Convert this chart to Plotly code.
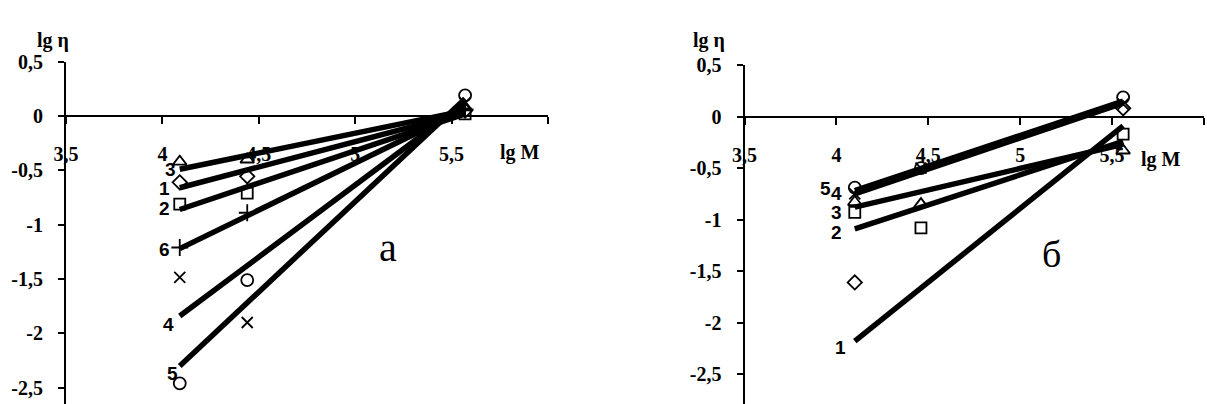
import plotly.graph_objects as go

W, H = 1207, 404

# ---------------- Panel "а" data ----------------
a_lgM = [4.09, 4.44, 5.57]
a_s1 = [-0.61, -0.555, 0.05]    # diamonds
a_s2 = [-0.81, -0.71, 0.02]     # squares
a_s3 = [-0.42, -0.40, 0.08]     # triangles
a_s4 = [-1.485, -1.90, 0.12]    # crosses (x)
a_s5 = [-2.46, -1.51, 0.19]     # circles
a_s6 = [-1.21, -0.89, 0.06]     # plus
a_fit_x = [4.09, 5.57]
a_fit1 = [-0.66, 0.03]
a_fit2 = [-0.86, 0.02]
a_fit3 = [-0.49, 0.05]
a_fit4 = [-1.84, 0.12]
a_fit5 = [-2.30, 0.16]
a_fit6 = [-1.22, 0.06]
a_lbl_text = ["3", "1", "2", "6", "4", "5"]
a_lbl_x = [4.04, 4.01, 4.01, 4.01, 4.03, 4.05]
a_lbl_y = [-0.49, -0.67, -0.85, -1.23, -1.92, -2.37]

# ---------------- Panel "б" data ----------------
b_lgM = [4.10, 4.46, 5.56]
b_s1 = [-1.61, None, 0.08]      # diamonds
b_s2 = [-0.93, -1.08, -0.17]    # squares
b_s3 = [-0.83, -0.85, -0.33]    # triangles
b_s4 = [-0.75, -0.50, 0.12]     # crosses (x)
b_s5 = [-0.69, -0.50, 0.185]    # circles
b_fit_x = [4.10, 5.56]
b_fit1 = [-2.18, -0.09]
b_fit2 = [-1.09, -0.24]
b_fit3 = [-0.88, -0.27]
b_fit4 = [-0.75, 0.13]
b_fit5 = [-0.72, 0.15]
b_lbl_text = ["5", "4", "3", "2", "1"]
b_lbl_x = [3.94, 4.00, 4.00, 4.00, 4.02]
b_lbl_y = [-0.70, -0.75, -0.93, -1.13, -2.24]

x_ticks = [3.5, 4, 4.5, 5, 5.5, 6]
x_ticktext = ["3,5", "4", "4,5", "5", "5,5", ""]
y_ticks = [0.5, 0, -0.5, -1, -1.5, -2, -2.5]
y_ticktext = ["0,5", "0", "-0,5", "-1", "-1,5", "-2", "-2,5"]

a_yrange = [-2.65, 0.5]
b_yrange = [-2.79, 0.5]

fig = go.Figure()

def add_marks(xs, ys, symbol, xa, ya, size=11):
    fig.add_trace(go.Scatter(
        x=xs, y=ys, mode="markers", xaxis=xa, yaxis=ya, showlegend=False,
        marker=dict(symbol=symbol, size=size, color="black",
                    line=dict(color="black", width=1.8)),
        cliponaxis=False))

def add_fit(xs, ys, xa, ya):
    fig.add_trace(go.Scatter(
        x=xs, y=ys, mode="lines", xaxis=xa, yaxis=ya, showlegend=False,
        line=dict(color="black", width=5.5)))

# panel а
add_marks(a_lgM, a_s1, "diamond-open", "x", "y")
add_marks(a_lgM, a_s2, "square-open", "x", "y")
add_marks(a_lgM, a_s3, "triangle-up-open", "x", "y", 12)
add_marks(a_lgM, a_s4, "x-thin-open", "x", "y")
add_marks(a_lgM, a_s5, "circle-open", "x", "y", 12)
add_marks(a_lgM, a_s6, "cross-thin-open", "x", "y", 12)
for f in [a_fit1, a_fit2, a_fit3, a_fit4, a_fit5, a_fit6]:
    add_fit(a_fit_x, f, "x", "y")

# panel б
add_marks(b_lgM, b_s1, "diamond-open", "x2", "y2")
add_marks(b_lgM, b_s2, "square-open", "x2", "y2")
add_marks(b_lgM, b_s3, "triangle-up-open", "x2", "y2", 12)
add_marks(b_lgM, b_s4, "x-thin-open", "x2", "y2")
add_marks(b_lgM, b_s5, "circle-open", "x2", "y2", 12)
for f in [b_fit1, b_fit2, b_fit3, b_fit4, b_fit5]:
    add_fit(b_fit_x, f, "x2", "y2")

tickfont = dict(family="Liberation Serif", size=20, color="black")

a_ydom = [0, 1 - 61.7 / H]
b_ydom = [0, 1 - 65.0 / H]

def zero_pos(dom, rng):
    return dom[0] + (dom[1] - dom[0]) * (0 - rng[0]) / (rng[1] - rng[0])

def bold(labels):
    return ["<b>%s</b>" % t if t else "" for t in labels]

def xaxis_cfg(dom, ypos):
    return dict(domain=dom, range=[3.5, 6], anchor="free", position=ypos,
                tickmode="array", tickvals=x_ticks, ticktext=bold(x_ticktext),
                showline=True, linecolor="black", linewidth=2,
                ticks="outside", ticklen=7, tickwidth=1.5, tickcolor="black",
                showgrid=False, zeroline=False, tickfont=tickfont,
                ticklabelstandoff=13, layer="below traces", automargin=False)

def yaxis_cfg(dom, rng, xa):
    return dict(domain=dom, range=rng, anchor=xa,
                tickmode="array", tickvals=y_ticks, ticktext=bold(y_ticktext),
                showline=True, linecolor="black", linewidth=2,
                ticks="outside", ticklen=6, tickwidth=1.5, tickcolor="black",
                showgrid=False, zeroline=False, tickfont=tickfont,
                ticklabelstandoff=11, layer="below traces", automargin=False)

fig.update_layout(
    width=W, height=H, margin=dict(l=0, r=0, t=0, b=0),
    paper_bgcolor="white", plot_bgcolor="rgba(0,0,0,0)",
    xaxis=xaxis_cfg([66 / W, 548 / W], zero_pos(a_ydom, a_yrange)),
    yaxis=yaxis_cfg(a_ydom, a_yrange, "x"),
    xaxis2=xaxis_cfg([744.5 / W, 1204 / W], zero_pos(b_ydom, b_yrange)),
    yaxis2=yaxis_cfg(b_ydom, b_yrange, "x2"),
)

ann = []
lblfont = dict(family="Liberation Sans", size=19, color="black")
for t, x, y in zip(a_lbl_text, a_lbl_x, a_lbl_y):
    ann.append(dict(text="<b>%s</b>" % t, x=x, y=y, xref="x", yref="y",
                    showarrow=False, font=lblfont))
for t, x, y in zip(b_lbl_text, b_lbl_x, b_lbl_y):
    ann.append(dict(text="<b>%s</b>" % t, x=x, y=y, xref="x2", yref="y2",
                    showarrow=False, font=lblfont))

titlefont = dict(family="Liberation Serif", size=20, color="black")
ann += [
    dict(text="<b>lg η</b>", x=35 / W, y=1 - 26.7 / H, xref="paper", yref="paper",
         showarrow=False, font=titlefont),
    dict(text="<b>lg η</b>", x=708.5 / W, y=1 - 26.7 / H, xref="paper", yref="paper",
         showarrow=False, font=titlefont),
    dict(text="<b>lg M</b>", x=520 / W, y=1 - 152 / H, xref="paper", yref="paper",
         showarrow=False, font=titlefont),
    dict(text="<b>lg M</b>", x=1183 / W, y=1 - 159 / H, xref="paper", yref="paper",
         showarrow=False, font=titlefont),
    dict(text="а", x=5.17, y=-1.21, xref="x", yref="y", showarrow=False,
         font=dict(family="Liberation Serif", size=40, color="black")),
    dict(text="б", x=5.17, y=-1.33, xref="x2", yref="y2", showarrow=False,
         font=dict(family="Liberation Serif", size=38, color="black")),
]
fig.update_layout(annotations=ann)

fig.write_html("out.html", config={"displayModeBar": False},
               post_script="document.body.style.margin='0px';document.body.style.overflow='hidden';")
